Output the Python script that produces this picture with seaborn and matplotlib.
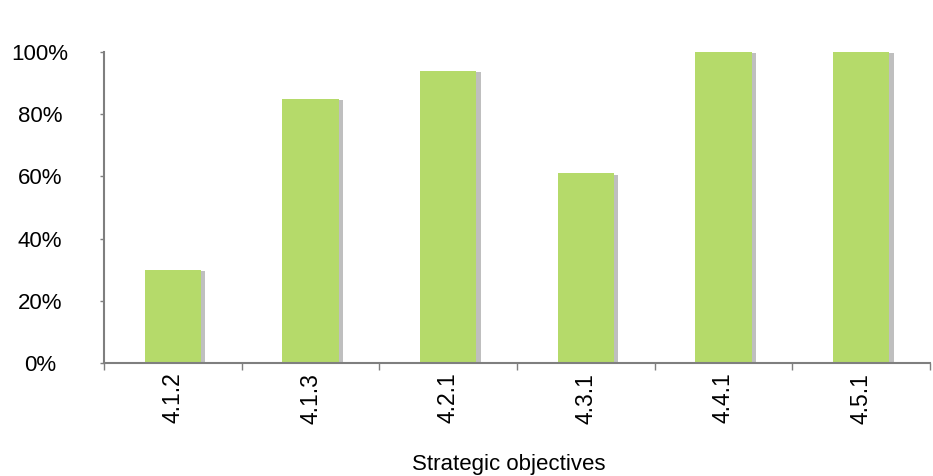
import matplotlib
matplotlib.use("Agg")
import matplotlib.pyplot as plt
import matplotlib.patheffects as pe
from matplotlib.ticker import FixedLocator
import seaborn as sns
import pandas as pd

# Share of each strategic objective achieved (%)
objectives = ["4.1.2", "4.1.3", "4.2.1", "4.3.1", "4.4.1", "4.5.1"]
achieved = [30, 85, 94, 61, 100, 100]
y_ticks = [0, 20, 40, 60, 80, 100]
y_tick_labels = ["0%", "20%", "40%", "60%", "80%", "100%"]

bar_color = "#b5da6a"
axis_color = "#7f7f7f"

sns.set_style("white")
plt.rcParams["font.family"] = ["Liberation Sans", "DejaVu Sans"]
plt.rcParams["text.color"] = "black"
plt.rcParams["axes.labelcolor"] = "black"

df = pd.DataFrame({"objective": objectives, "achieved": achieved})

fig = plt.figure(figsize=(9.33, 4.76), dpi=100)
ax = fig.add_axes([104 / 933, 1 - 363 / 476, (930 - 104) / 933, (363 - 52) / 476])

sns.barplot(data=df, x="objective", y="achieved", color=bar_color,
            width=0.41, saturation=1, ax=ax)

for patch in ax.patches:
    patch.set_linewidth(0)
    patch.set_path_effects([
        pe.SimplePatchShadow(offset=(3, -1), shadow_rgbFace="#5f5f5f", alpha=0.4),
        pe.Normal(),
    ])

ax.set_xlim(-0.5, len(objectives) - 0.5)
ax.set_ylim(0, 100)

# Y axis: percentage scale, labels centred in the left margin
ax.set_yticks(y_ticks)
ax.set_yticklabels(y_tick_labels, fontsize=16, ha="center")
ax.tick_params(axis="y", which="major", length=3, width=1, color=axis_color,
               labelcolor="black", direction="out", pad=43, left=True)

# X axis: category labels rotated, tick marks between categories
ax.set_xticks(range(len(objectives)))
ax.set_xticklabels(objectives, rotation=90, fontsize=16.5, ha="center", va="top")
ax.xaxis.set_minor_locator(FixedLocator([i - 0.5 for i in range(len(objectives) + 1)]))
ax.tick_params(axis="x", which="major", length=0, pad=7, labelcolor="black")
ax.tick_params(axis="x", which="minor", length=5, width=1, color=axis_color,
               direction="out", bottom=True)

ax.set_xlabel("Strategic objectives", fontsize=16, labelpad=22, color="black")
ax.xaxis.label.set_x(0.49)
ax.set_ylabel("")

for side in ("top", "right"):
    ax.spines[side].set_visible(False)
for side in ("left", "bottom"):
    ax.spines[side].set_color(axis_color)
    ax.spines[side].set_linewidth(1.5)

fig.savefig("out.png", dpi=100, facecolor="white")
